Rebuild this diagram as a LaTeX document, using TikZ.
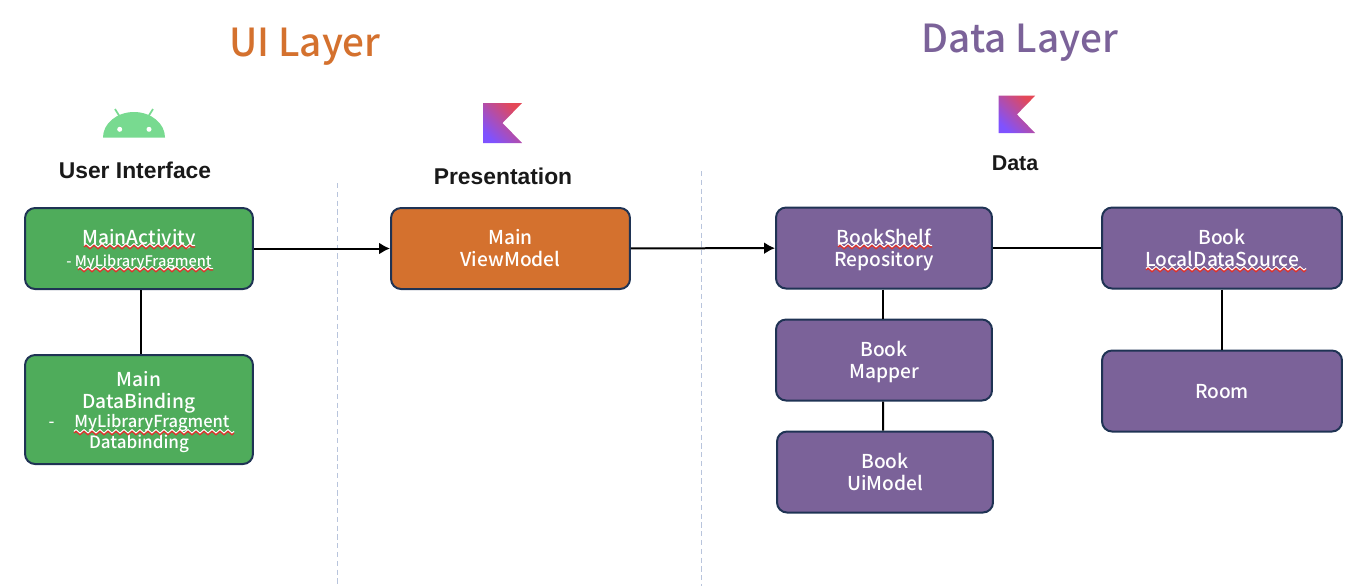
\documentclass[tikz,border=0pt]{standalone}
\usepackage{fontspec}
\setmainfont[UprightFont=* Medium]{Noto Sans CJK KR}
\newfontfamily\headfont{Liberation Sans}
\usetikzlibrary{decorations.pathmorphing,arrows.meta}
\definecolor{uigreen}{HTML}{4FAC5B}
\definecolor{vmorange}{HTML}{D4712E}
\definecolor{datapurple}{HTML}{7B6299}
\definecolor{boxborder}{HTML}{1F3354}
\definecolor{droidgreen}{HTML}{78DA90}
\definecolor{dividerblue}{HTML}{B8C4DC}
\definecolor{kotlinblue}{HTML}{7F52FF}
\definecolor{kotlinpurple}{HTML}{B01FDC}
\definecolor{kotlinred}{HTML}{E44857}
\definecolor{spellred}{HTML}{E0302A}
\newcommand{\liftline}{\rule{0pt}{11pt}}
\tikzset{
  box/.style={draw=boxborder, line width=.04cm, rounded corners=.2cm, align=center, text=white, inner sep=0pt, minimum height=1.62cm, font=\fontsize{10.9}{12.5}\selectfont, execute at begin node={\rule{0pt}{13pt}}, execute at end node={\rule[-3pt]{0pt}{3pt}}},
  link/.style={line width=.04cm, black},
  arrowlink/.style={link, -{Latex[length=.22cm,width=.24cm]}},
  layer/.style={font=\fontsize{22}{26}\selectfont},
  head/.style={font=\headfont\fontsize{13}{15}\selectfont\bfseries, text=black!90},
  divider/.style={dividerblue, line width=.02cm, densely dashed},
  squiggle/.style={line width=.025cm, decorate, decoration={zigzag, segment length=.16cm, amplitude=.035cm}},
  kotlinlogo/.pic={
    \shade[bottom color=kotlinblue, middle color=kotlinpurple, top color=kotlinred, shading angle=-45]
      (0,0) -- (39,0) -- (19.5,-20) -- (39,-40) -- (0,-40) -- cycle;
  }
}
\begin{document}
\begin{tikzpicture}[x=.02cm,y=.02cm]
\useasboundingbox (0,0) rectangle (1362,-586);
\node[layer, text=vmorange] (uilayer) at (305,-46.5) {UI Layer};
\node[layer, text=datapurple] (datalayer) at (1020,-43) {Data Layer};
\node[head] (ui) at (135,-170) {User Interface};
\node[head] (presentation) at (503,-176) {Presentation};
\node[head, font=\headfont\fontsize{12.2}{15}\selectfont\bfseries] (data) at (1015,-163) {Data};
% logos
\fill[droidgreen] (103,-137.5) arc[start angle=180, end angle=0, x radius=31, y radius=25.5] -- cycle;
\draw[droidgreen, line width=.035cm] (120,-117) -- (115,-109) (148,-117) -- (153,-109);
\fill[white] (119.7,-129.3) circle (2.5) (149,-129.3) circle (2.5);
\pic at (483,-103) {kotlinlogo};
\pic[scale=.935] at (998.7,-95.7) {kotlinlogo};
% dividers
\draw[divider] (337,-183) -- (337,-586);
\draw[divider] (701,-171) -- (701,-586);
% boxes
\node[box, fill=uigreen, minimum width=4.56cm] (activity) at (139,-248.5) {\liftline MainActivity\\[0pt]{\fontsize{8.3}{10}\selectfont - MyLibraryFragment}};
\node[box, fill=uigreen, minimum width=4.56cm, minimum height=2.18cm] (binding) at (139,-409.5) {\rule{0pt}{11.6pt}Main\\DataBinding\\[-1.6pt]{\fontsize{9.4}{10}\selectfont -\hspace{.4cm}MyLibraryFragment}\\[-.6pt]{\fontsize{9.7}{10}\selectfont Databinding}};
\node[box, fill=vmorange, minimum width=4.78cm] (viewmodel) at (510.5,-248.5) {\liftline Main\\ViewModel};
\node[box, fill=datapurple, minimum width=4.32cm] (repository) at (884,-248) {\liftline BookShelf\\Repository};
\node[box, fill=datapurple, minimum width=4.32cm] (mapper) at (884,-360) {\liftline Book\\Mapper};
\node[box, fill=datapurple, minimum width=4.32cm] (uimodel) at (885,-472) {\liftline Book\\UiModel};
\node[box, fill=datapurple, minimum width=4.8cm] (localsource) at (1222,-248) {\liftline Book\\LocalDataSource};
\node[box, fill=datapurple, minimum width=4.8cm] (room) at (1222,-391) {\raisebox{.6pt}{Room}};
% spell check marks
\foreach \xa/\xb/\ya in {84/195/-247,78/213/-270,74/234/-433,838/932/-247,1146/1306/-270}{
  \draw[squiggle, white] (\xa,\ya+1.5) -- (\xb,\ya+1.5);
  \draw[squiggle, spellred] (\xa,\ya) -- (\xb,\ya);
}
% connectors
\draw[arrowlink] (activity) -- (viewmodel);
\draw[arrowlink] (viewmodel) -- (repository);
\draw[link] (repository) -- (localsource);
\draw[link] ([xshift=.04cm]activity.south) -- ([xshift=.04cm]binding.north);
\draw[link] ([xshift=-.02cm]repository.south) -- ([xshift=-.02cm]mapper.north);
\draw[link] ([xshift=-.02cm]mapper.south) -- ([xshift=-.04cm]uimodel.north);
\draw[link] (localsource) -- (room);
\end{tikzpicture}
\end{document}
